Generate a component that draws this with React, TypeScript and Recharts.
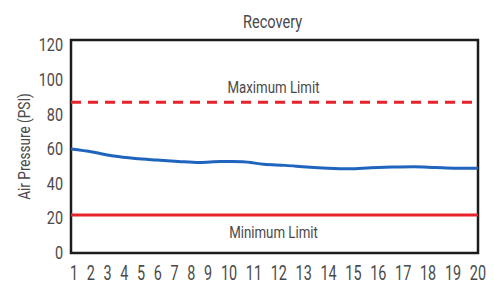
import { LineChart, Line, XAxis, YAxis, ReferenceLine, ReferenceArea } from 'recharts';

// ── Data ────────────────────────────────────────────────
const cycles = [1, 2, 3, 4, 5, 6, 7, 8, 9, 10, 11, 12, 13, 14, 15, 16, 17, 18, 19, 20];
const pressure = [60, 58.3, 56, 54.6, 53.7, 52.9, 52.3, 52.8, 52.7, 51.2, 50.6, 49.6, 48.9, 48.6, 49.2, 49.6, 49.8, 49.4, 49, 48.9];
const yTicks = [0, 20, 40, 60, 80, 100, 120];
const maxLimit = 87;
const minLimit = 22;

const data = cycles.map((c, i) => ({ cycle: c, psi: pressure[i] }));

const FONT = 'Roboto, "Liberation Sans", sans-serif';
const TEXT = '#4a4a4a';

// Roboto squeezed horizontally to look like the condensed face in the original
function NarrowText({ x, y, size, sx = 0.8, anchor = 'middle', rotate = 0, children, ...rest }: any) {
  return (
    <text
      transform={`translate(${x},${y}) rotate(${rotate}) scale(${sx},1)`}
      textAnchor={anchor}
      dominantBaseline="central"
      fontFamily={FONT}
      fontSize={size}
      fill={TEXT}
      {...rest}
    >
      {children}
    </text>
  );
}

function YTick({ x, y, payload }: any) {
  return (
    <NarrowText x={x} y={y} size={18} sx={0.8} anchor="end">
      {payload.value}
    </NarrowText>
  );
}

function LimitLabel(text: string, side: 'top' | 'bottom') {
  return ({ viewBox }: any) => (
    <NarrowText
      x={viewBox.x + viewBox.width / 2 - 1}
      y={side === 'top' ? viewBox.y - 15 : viewBox.y + 18}
      size={17}
      sx={0.78}
    >
      {text}
    </NarrowText>
  );
}

export default function App() {
  const sx = 0.72;
  return (
    <div style={{ position: 'absolute', left: 0, top: 0, width: 494, height: 283, background: '#fff' }}>
      <LineChart width={494} height={283} data={data} margin={{ top: 40, right: 16, bottom: 0, left: 0 }}>
        <XAxis
          dataKey="cycle"
          type="number"
          domain={[1, 20]}
          height={30}
          axisLine={false}
          tickLine={false}
          tick={false}
          label={({ viewBox }: any) => (
            <g>
              <text
                transform={`translate(${viewBox.x - 1},${viewBox.y + 20}) scale(${sx},1)`}
                textLength={(viewBox.width + 9) / sx}
                lengthAdjust="spacing"
                dominantBaseline="central"
                fontFamily={FONT}
                fontSize={20}
                fill={TEXT}
                style={{ whiteSpace: 'pre', wordSpacing: 7 }}
              >
                {cycles.join(' ')}
              </text>
              <NarrowText x={viewBox.x + viewBox.width / 2 - 2} y={22} size={18} sx={0.81}>
                Recovery
              </NarrowText>
            </g>
          )}
        />
        <YAxis
          type="number"
          domain={[0, 123]}
          ticks={yTicks}
          width={71}
          axisLine={false}
          tickLine={false}
          tick={<YTick />}
          label={({ viewBox }: any) => (
            <NarrowText x={25} y={viewBox.y + viewBox.height / 2} size={16} sx={0.85} rotate={-90}>
              Air Pressure (PSI)
            </NarrowText>
          )}
        />
        <ReferenceLine
          y={maxLimit}
          stroke="#e8222b"
          strokeWidth={3}
          strokeDasharray="10 7"
          label={LimitLabel('Maximum Limit', 'top')}
        />
        <ReferenceLine
          y={minLimit}
          stroke="#e8222b"
          strokeWidth={3}
          label={LimitLabel('Minimum Limit', 'bottom')}
        />
        <Line
          type="monotone"
          dataKey="psi"
          stroke="#1f64bd"
          strokeWidth={3}
          dot={false}
          isAnimationActive={false}
        />
        <ReferenceArea x1={1} x2={20} y1={0} y2={123} fill="none" stroke="#1c1c1c" strokeWidth={2.5} ifOverflow="visible" />
      </LineChart>
    </div>
  );
}
